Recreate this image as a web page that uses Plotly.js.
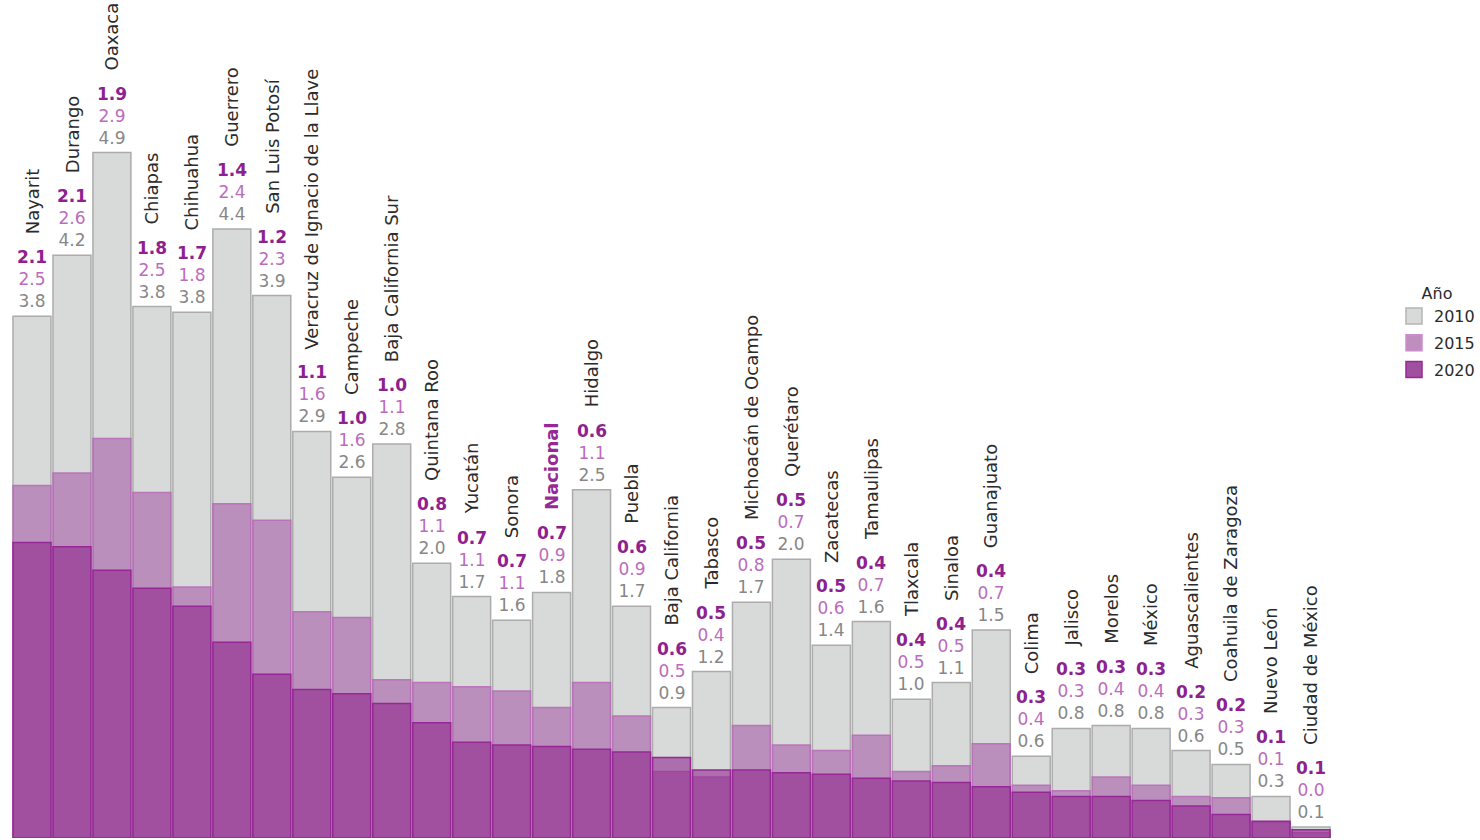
<!DOCTYPE html>
<html>
<head>
<meta charset="utf-8">
<script src="https://cdn.plot.ly/plotly-3.0.1.min.js"></script>
<style>html,body{margin:0;padding:0;background:#fff;}#chart{width:1480px;height:840px;}</style>
</head>
<body>
<div id="chart"></div>
<script>
const categories = ["Nayarit","Durango","Oaxaca","Chiapas","Chihuahua","Guerrero","San Luis Potosí","Veracruz de Ignacio de la Llave","Campeche","Baja California Sur","Quintana Roo","Yucatán","Sonora","Nacional","Hidalgo","Puebla","Baja California","Tabasco","Michoacán de Ocampo","Querétaro","Zacatecas","Tamaulipas","Tlaxcala","Sinaloa","Guanajuato","Colima","Jalisco","Morelos","México","Aguascalientes","Coahuila de Zaragoza","Nuevo León","Ciudad de México"];
const values2010 = [3.76,4.20,4.94,3.83,3.79,4.39,3.91,2.93,2.60,2.84,1.98,1.74,1.57,1.77,2.51,1.67,0.94,1.20,1.70,2.01,1.39,1.56,1.00,1.12,1.50,0.59,0.79,0.81,0.79,0.63,0.53,0.30,0.08];
const values2015 = [2.54,2.63,2.88,2.49,1.81,2.41,2.29,1.63,1.59,1.14,1.12,1.09,1.06,0.94,1.12,0.88,0.48,0.44,0.81,0.67,0.63,0.74,0.48,0.52,0.68,0.38,0.34,0.44,0.38,0.30,0.29,0.11,0.04];
const values2020 = [2.13,2.10,1.93,1.80,1.67,1.41,1.18,1.07,1.04,0.97,0.83,0.69,0.67,0.66,0.64,0.62,0.58,0.49,0.49,0.47,0.46,0.43,0.41,0.40,0.37,0.33,0.30,0.30,0.27,0.23,0.17,0.12,0.06];
const years = ["2010","2015","2020"];
const highlight = "Nacional";

const FONT = "DejaVu Sans, sans-serif";
const fills = ["rgb(216,217,217)","rgba(169,94,169,0.6)","rgba(143,38,141,0.6)"];
const lines = ["rgb(172,172,172)","rgba(185,110,185,0.9)","rgb(150,40,150)"];
const legendFills = ["rgb(216,217,217)","rgb(190,143,190)","rgb(161,80,160)"];
const legendLines = ["rgb(180,180,180)","rgb(205,140,205)","rgb(150,40,150)"];
const labelColors = ["#878787","#bb6cbd","#8e2090"];

const series = [values2010, values2015, values2020];
const traces = series.map((vals, i) => ({
  type: "bar", x: categories, y: vals, name: years[i], showlegend: false,
  marker: {color: fills[i], line: {color: lines[i], width: 1.5}},
  hoverinfo: "x+y"
}));
years.forEach((yr, i) => traces.push({
  type: "scatter", mode: "markers", x: [null], y: [null], name: yr, showlegend: true,
  legendgroup: "g" + yr,
  marker: {symbol: "square", size: 16, color: legendFills[i], line: {color: legendLines[i], width: 1.5}}
}));

const annotations = [];
categories.forEach((c, i) => {
  const top = Math.max(values2010[i], values2015[i], values2020[i]);
  const txt = `<span style="font-weight:bold;color:${labelColors[2]}">${values2020[i].toFixed(1)}</span><br>` +
              `<span style="color:${labelColors[1]}">${values2015[i].toFixed(1)}</span><br>` +
              `<span style="color:${labelColors[0]}">${values2010[i].toFixed(1)}</span>`;
  annotations.push({x: c, y: top, xref: "x", yref: "y", text: txt, showarrow: false,
    yanchor: "bottom", xanchor: "center", yshift: 3, font: {family: FONT, size: 17, color: "#878787"}});
  const isH = c === highlight;
  annotations.push({x: c, y: top, xref: "x", yref: "y",
    text: isH ? `<b>${c}</b>` : c, showarrow: false, textangle: -90,
    yanchor: "bottom", xanchor: "center", yshift: 80,
    font: {family: FONT, size: 18, color: isH ? "#952a96" : "#2b2b2b"}});
});

const layout = {
  width: 1480, height: 840,
  margin: {l: 12, r: 147, t: 0, b: 2, pad: 0},
  paper_bgcolor: "#fff", plot_bgcolor: "#fff",
  barmode: "overlay", bargap: 0.05,
  font: {family: FONT, size: 16, color: "#2b2b2b"},
  xaxis: {visible: false, type: "category", range: [-0.5, categories.length - 0.5]},
  yaxis: {visible: false, range: [0, 6.04]},
  legend: {x: 1.048, xanchor: "left", y: 0.668, yanchor: "top",
    traceorder: "grouped", tracegroupgap: 3,
    title: {text: "Año", side: "top center", font: {family: FONT, size: 16, color: "#2b2b2b"}},
    font: {family: FONT, size: 16, color: "#2b2b2b"}, itemwidth: 30},
  annotations: annotations
};

Plotly.newPlot("chart", traces, layout, {displayModeBar: false, staticPlot: true});
</script>
</body>
</html>
